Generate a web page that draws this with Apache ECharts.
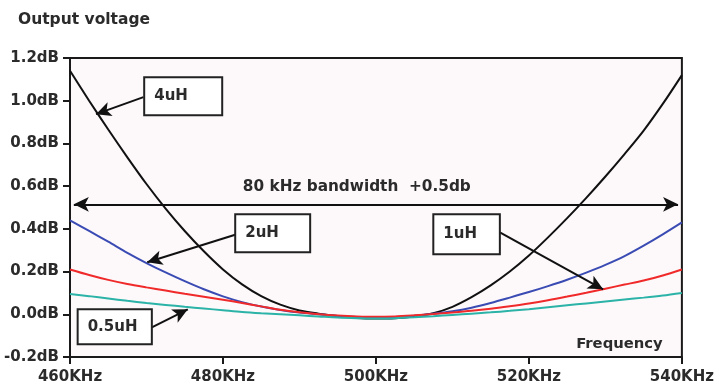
<!DOCTYPE html>
<html>
<head>
<meta charset="utf-8">
<script src="https://cdn.jsdelivr.net/npm/echarts@6/dist/echarts.min.js"></script>
<style>
  html, body { margin: 0; padding: 0; background: #ffffff; }
  #chart { width: 717px; height: 392px; }
</style>
</head>
<body>
<div id="chart"></div>
<script>
// Frequency sweep (kHz) and output-voltage deviation (dB) for each inductance
const freqKHz = [460, 462.5, 465, 467.5, 470, 472.5, 475, 477.5, 480, 482.5, 485, 487.5, 490, 492.5, 495, 497.5,
                 500, 502.5, 505, 507.5, 510, 512.5, 515, 517.5, 520, 522.5, 525, 527.5, 530, 532.5, 535, 537.5, 540];

const resp4uH = [1.14, 1.00, 0.865, 0.735, 0.61, 0.495, 0.39, 0.295, 0.21, 0.14, 0.085, 0.045, 0.018, 0.003, -0.008, -0.017,
                 -0.02, -0.018, -0.01, 0.005, 0.035, 0.08, 0.135, 0.20, 0.275, 0.36, 0.45, 0.545, 0.645, 0.75, 0.86, 0.985, 1.12];

const resp2uH = [0.44, 0.39, 0.34, 0.288, 0.24, 0.196, 0.155, 0.117, 0.084, 0.057, 0.036, 0.02, 0.008, 0.0, -0.008, -0.013,
                 -0.015, -0.013, -0.007, 0.002, 0.014, 0.031, 0.053, 0.078, 0.104, 0.132, 0.162, 0.195, 0.231, 0.272, 0.321, 0.374, 0.43];

const resp1uH = [0.21, 0.184, 0.161, 0.142, 0.126, 0.111, 0.096, 0.082, 0.068, 0.053, 0.037, 0.021, 0.009, 0.0, -0.006, -0.01,
                 -0.012, -0.01, -0.005, 0.001, 0.008, 0.016, 0.026, 0.038, 0.051, 0.066, 0.083, 0.101, 0.12, 0.139, 0.158, 0.182, 0.21];

const resp05uH = [0.095, 0.085, 0.074, 0.063, 0.053, 0.044, 0.035, 0.027, 0.019, 0.011, 0.005, 0.0, -0.005, -0.01, -0.015, -0.018,
                  -0.02, -0.018, -0.014, -0.009, -0.003, 0.003, 0.009, 0.016, 0.024, 0.033, 0.042, 0.051, 0.06, 0.069, 0.078, 0.088, 0.10];

// Axis ranges and ticks
const xTicks = [460, 480, 500, 520, 540];
const yTicks = [-0.2, 0.0, 0.2, 0.4, 0.6, 0.8, 1.0, 1.2];

// Bandwidth marker level (dB)
const bandLevel = 0.515;

const FONT = 'DejaVu Sans';
const TEXT_COLOR = '#2b2b2b';

const chart = echarts.init(document.getElementById('chart'), null, { renderer: 'canvas' });

function pairs(values) {
  return freqKHz.map((f, i) => [f, values[i]]);
}

function curve(name, values, color) {
  return {
    name: name,
    type: 'line',
    data: pairs(values),
    showSymbol: false,
    smooth: 0.3,
    clip: true,
    lineStyle: { color: color, width: 2 },
    emphasis: { disabled: true },
    z: 3
  };
}

// Arrow from a label box to its curve: [start, end] in data coordinates
const arrowLines = [
  [[469.6, 1.017], [463.4, 0.937]],
  [[481.8, 0.375], [470.1, 0.244]],
  [[516.2, 0.384], [529.7, 0.117]],
  [[470.7, -0.061], [475.4, 0.023]]
];

const axisCommon = {
  axisLine: { show: true, onZero: false, lineStyle: { color: '#1a1a1a', width: 2 } },
  axisTick: { show: true, length: 7, lineStyle: { color: '#1a1a1a', width: 2 } },
  splitLine: { show: false }
};

const option = {
  backgroundColor: '#ffffff',
  animation: false,
  title: {
    text: 'Output voltage',
    left: 13,
    top: 7,
    textStyle: { fontFamily: FONT, fontSize: 15.5, fontWeight: 'bold', color: TEXT_COLOR }
  },
  grid: {
    left: 70, right: 35, top: 58, bottom: 35,
    show: true,
    backgroundColor: '#fdf9fa',
    borderColor: '#1a1a1a',
    borderWidth: 2
  },
  xAxis: Object.assign({
    type: 'value',
    min: xTicks[0],
    max: xTicks[xTicks.length - 1],
    interval: 20,
    axisLabel: {
      margin: 13,
      fontFamily: FONT, fontSize: 15, fontWeight: 'bold', color: TEXT_COLOR,
      formatter: v => v + 'KHz'
    }
  }, axisCommon),
  yAxis: Object.assign({
    type: 'value',
    min: yTicks[0],
    max: yTicks[yTicks.length - 1],
    interval: 0.2,
    axisLabel: {
      margin: 11,
      fontFamily: FONT, fontSize: 15, fontWeight: 'bold', color: TEXT_COLOR,
      formatter: v => v.toFixed(1) + 'dB'
    }
  }, axisCommon),
  series: [
    curve('4uH', resp4uH, '#111111'),
    curve('2uH', resp2uH, '#3a4bb3'),
    curve('1uH', resp1uH, '#f02a2a'),
    curve('0.5uH', resp05uH, '#2bb3a8'),
    {
      name: 'annotations',
      type: 'line',
      data: [],
      silent: true,
      z: 5,
      markLine: {
        silent: true,
        animation: false,
        symbolSize: [11, 15],
        label: { show: false },
        emphasis: { disabled: true },
        lineStyle: { color: '#111111', width: 2, type: 'solid' },
        data: [
          [{ coord: [460.5, bandLevel], symbol: 'arrow' }, { coord: [539.5, bandLevel], symbol: 'arrow' }]
        ].concat(arrowLines.map(a => [
          { coord: a[0], symbol: 'none' },
          { coord: a[1], symbol: 'arrow' }
        ]))
      }
    }
  ]
};

chart.setOption(option);

// Label boxes: [text, x0, y0, x1, y1] in data coordinates
const boxes = [
  ['4uH', 469.7, 1.11, 479.9, 0.932],
  ['2uH', 481.6, 0.468, 491.4, 0.29],
  ['1uH', 507.5, 0.468, 516.2, 0.281],
  ['0.5uH', 461.0, 0.023, 470.7, -0.14]
];

function px(x, y) {
  return chart.convertToPixel({ gridIndex: 0 }, [x, y]);
}

const graphics = [];
boxes.forEach(b => {
  const p0 = px(b[1], b[2]);
  const p1 = px(b[3], b[4]);
  graphics.push({
    type: 'rect',
    z: 10,
    silent: true,
    shape: { x: p0[0], y: p0[1], width: p1[0] - p0[0], height: p1[1] - p0[1] },
    style: { fill: '#ffffff', stroke: '#222222', lineWidth: 2 }
  });
  graphics.push({
    type: 'text',
    z: 11,
    silent: true,
    x: p0[0] + 10,
    y: (p0[1] + p1[1]) / 2,
    style: {
      text: b[0],
      fontFamily: FONT, fontSize: 15, fontWeight: 'bold',
      fill: TEXT_COLOR,
      textAlign: 'left', textVerticalAlign: 'middle'
    }
  });
});

const bandText = px(497.5, 0.595);
graphics.push({
  type: 'text', z: 11, silent: true,
  x: bandText[0], y: bandText[1],
  style: {
    text: '80 kHz bandwidth  +0.5db',
    fontFamily: FONT, fontSize: 15.3, fontWeight: 'bold', fill: TEXT_COLOR,
    textAlign: 'center', textVerticalAlign: 'middle'
  }
});

const freqText = px(537.5, -0.14);
graphics.push({
  type: 'text', z: 11, silent: true,
  x: freqText[0], y: freqText[1],
  style: {
    text: 'Frequency',
    fontFamily: FONT, fontSize: 14.8, fontWeight: 'bold', fill: TEXT_COLOR,
    textAlign: 'right', textVerticalAlign: 'middle'
  }
});

chart.setOption({ graphic: graphics });
</script>
</body>
</html>
